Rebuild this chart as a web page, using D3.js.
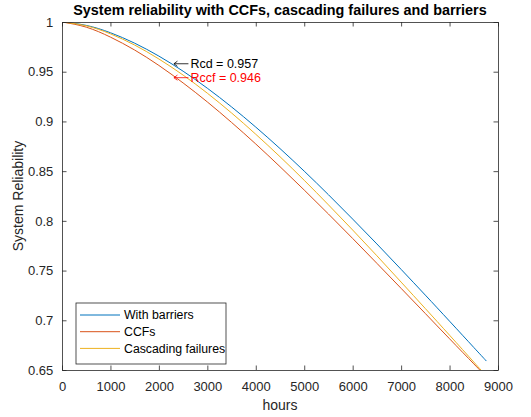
<!DOCTYPE html>
<html>
<head>
<meta charset="utf-8">
<title>System reliability with CCFs, cascading failures and barriers</title>
<script src="https://cdn.jsdelivr.net/npm/d3@7"></script>
<style>
    body { margin: 0; background: #fff; }
    svg text { font-family: "Liberation Sans", Arial, sans-serif; }
</style>
</head>
<body>
<script>
    // values
    const hours = [0, 500, 1000, 1500, 2000, 2500, 3000, 3500, 4000, 4500, 5000, 5500, 6000, 6500, 7000, 7500, 8000, 8500, 8760];
    const withBarriers = [1, 0.9966, 0.9892, 0.9787, 0.9657, 0.9505, 0.9334, 0.9146, 0.8943, 0.8727, 0.8500, 0.8263, 0.8018, 0.7768, 0.7512, 0.7253, 0.6991, 0.6727, 0.6590];
    const ccfs = [1, 0.9948, 0.9848, 0.9718, 0.9563, 0.9387, 0.9196, 0.8990, 0.8773, 0.8545, 0.8310, 0.8069, 0.7823, 0.7573, 0.7321, 0.7068, 0.6814, 0.6562, 0.6431];
    const cascading = [1, 0.9962, 0.9881, 0.9768, 0.9628, 0.9466, 0.9284, 0.9085, 0.8871, 0.8645, 0.8408, 0.8161, 0.7908, 0.7649, 0.7384, 0.7118, 0.6850, 0.6580, 0.6440];
    const seriesNames = ["With barriers", "CCFs", "Cascading failures"];
    const xTicks = [0, 1000, 2000, 3000, 4000, 5000, 6000, 7000, 8000, 9000];
    const yTicks = [0.65, 0.7, 0.75, 0.8, 0.85, 0.9, 0.95, 1];
    const yTickLabels = ["0.65", "0.7", "0.75", "0.8", "0.85", "0.9", "0.95", "1"];
    const notes = [
        {t: 2300, r: 0.958, label: "Rcd = 0.957", color: "#000000"},
        {t: 2300, r: 0.944, label: "Rccf = 0.946", color: "#ff0000"}
    ];

    const colors = ["#0072BD", "#D95319", "#EDB120"];
    const ink = "#262626";
    const W = 531, H = 417;
    const margin = {top: 22, right: 33, bottom: 47, left: 62};

    const x = d3.scaleLinear().domain([0, 9000]).range([margin.left, W - margin.right]);
    const y = d3.scaleLinear().domain([0.65, 1]).range([H - margin.bottom, margin.top]);

    const svg = d3.select("body").append("svg")
        .attr("width", W)
        .attr("height", H);

    svg.append("defs").append("clipPath")
        .attr("id", "plotclip")
        .append("rect")
        .attr("x", margin.left)
        .attr("y", margin.top)
        .attr("width", W - margin.left - margin.right)
        .attr("height", H - margin.top - margin.bottom);

    const series = [withBarriers, ccfs, cascading];
    const line = d3.line()
        .x((d, i) => x(hours[i]))
        .y(d => y(d))
        .curve(d3.curveNatural);

    svg.append("g")
        .attr("clip-path", "url(#plotclip)")
        .selectAll("path")
        .data(series)
        .enter()
        .append("path")
        .attr("d", line)
        .attr("fill", "none")
        .attr("stroke", (d, i) => colors[i])
        .attr("stroke-width", 1);

    const tick = 4.5;
    function styleAxis(g) {
        g.attr("font-family", null).attr("font-size", null);
        g.select(".domain").attr("stroke", ink).attr("stroke-width", 0.8);
        g.selectAll(".tick line").attr("stroke", ink).attr("stroke-width", 0.8);
        g.selectAll(".tick text").attr("fill", ink).style("font-size", "13px");
    }

    svg.append("g")
        .attr("transform", "translate(0," + y(0.65) + ")")
        .call(d3.axisBottom(x).tickValues(xTicks).tickFormat(d3.format("d"))
            .tickSizeInner(-tick).tickSizeOuter(0).tickPadding(11.5))
        .call(styleAxis);
    svg.append("g")
        .attr("transform", "translate(0," + y(1) + ")")
        .call(d3.axisTop(x).tickValues(xTicks).tickFormat("")
            .tickSizeInner(-tick).tickSizeOuter(0))
        .call(styleAxis);
    svg.append("g")
        .attr("transform", "translate(" + x(0) + ",0)")
        .call(d3.axisLeft(y).tickValues(yTicks).tickFormat((d, i) => yTickLabels[i])
            .tickSizeInner(-tick).tickSizeOuter(0).tickPadding(8.7))
        .call(styleAxis);
    svg.append("g")
        .attr("transform", "translate(" + x(9000) + ",0)")
        .call(d3.axisRight(y).tickValues(yTicks).tickFormat("")
            .tickSizeInner(-tick).tickSizeOuter(0))
        .call(styleAxis);

    // titles
    svg.append("text")
        .text("System reliability with CCFs, cascading failures and barriers")
        .attr("x", (x(0) + x(9000)) / 2)
        .attr("y", 15)
        .attr("text-anchor", "middle")
        .style("font-size", "14.4px")
        .style("font-weight", "bold")
        .attr("fill", "#000");
    svg.append("text")
        .text("hours")
        .attr("x", (x(0) + x(9000)) / 2)
        .attr("y", 410)
        .attr("text-anchor", "middle")
        .style("font-size", "14px")
        .attr("fill", ink);
    svg.append("text")
        .text("System Reliability")
        .attr("transform", "translate(23," + (y(0.65) + y(1)) / 2 + ") rotate(-90)")
        .attr("text-anchor", "middle")
        .style("font-size", "14px")
        .attr("fill", ink);

    // annotations: arrow drawn as a path, then the label
    const note = svg.selectAll(".note")
        .data(notes)
        .enter()
        .append("g")
        .attr("class", "note")
        .attr("transform", d => "translate(" + x(d.t) + "," + y(d.r) + ")");
    note.append("path")
        .attr("d", "M15,0H0.5M4,-2.6L0.5,0L4,2.6")
        .attr("fill", "none")
        .attr("stroke", d => d.color)
        .attr("stroke-width", 0.8);
    note.append("text")
        .attr("x", 17)
        .attr("dy", "0.33em")
        .style("font-size", "12.5px")
        .attr("fill", d => d.color)
        .text(d => d.label);

    // legend
    const legend = svg.append("g").attr("transform", "translate(76,303)");
    legend.append("rect")
        .attr("width", 150)
        .attr("height", 61)
        .attr("fill", "#fff")
        .attr("stroke", ink)
        .attr("stroke-width", 0.8);
    const rows = legend.selectAll(".row")
        .data(seriesNames)
        .enter()
        .append("g")
        .attr("transform", (d, i) => "translate(0," + (12 + i * 16.7) + ")");
    rows.append("line")
        .attr("x1", 4)
        .attr("x2", 44)
        .attr("stroke", (d, i) => colors[i])
        .attr("stroke-width", 1);
    rows.append("text")
        .attr("x", 48)
        .attr("dy", "0.35em")
        .style("font-size", "12.3px")
        .attr("fill", "#000")
        .text(d => d);
</script>
</body>
</html>
